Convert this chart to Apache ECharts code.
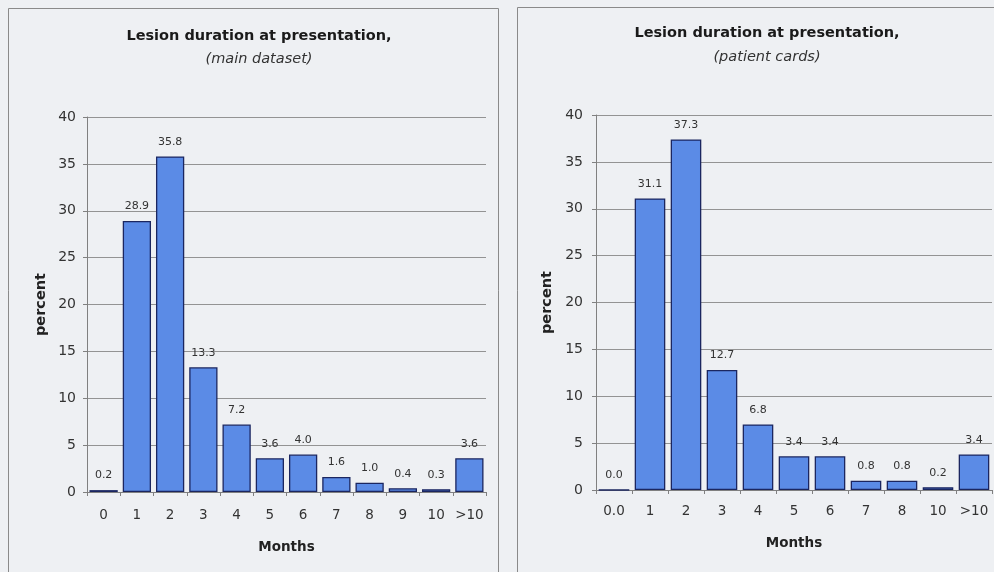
<!DOCTYPE html>
<html>
<head>
<meta charset="utf-8">
<script src="https://cdn.jsdelivr.net/npm/echarts@6/dist/echarts.min.js"></script>
<style>
html,body{margin:0;padding:0;background:#eef0f3;}
#c{width:994px;height:572px;}
</style>
</head>
<body>
<div id="c"></div>
<script>
// Left panel: main dataset
var catsMain = ['0','1','2','3','4','5','6','7','8','9','10','>10'];
var valsMain = [0.2, 28.9, 35.8, 13.3, 7.2, 3.6, 4.0, 1.6, 1.0, 0.4, 0.3, 3.6];
var labelsMain = ['0.2','28.9','35.8','13.3','7.2','3.6','4.0','1.6','1.0','0.4','0.3','3.6'];
// Right panel: patient cards (bar heights as drawn, labels as printed)
var catsCards = ['0.0','1','2','3','4','5','6','7','8','10','>10'];
var valsCards = [0.0, 31.1, 37.4, 12.8, 7.0, 3.6, 3.6, 1.0, 1.0, 0.3, 3.8];
var labelsCards = ['0.0','31.1','37.3','12.7','6.8','3.4','3.4','0.8','0.8','0.2','3.4'];
var yTicks = [0, 5, 10, 15, 20, 25, 30, 35, 40];

var FONT = '"DejaVu Sans", "Liberation Sans", Arial, sans-serif';
var chart = echarts.init(document.getElementById('c'));

function xAxisCfg(idx, cats, gap, margin) {
  return {
    type: 'category', gridIndex: idx, data: cats,
    name: 'Months', nameLocation: 'middle', nameGap: gap,
    nameTextStyle: {fontFamily: FONT, fontSize: 13.5, fontWeight: 'bold', color: '#222'},
    axisLine: {lineStyle: {color: '#808080', width: 1}},
    axisTick: {show: true, length: 4, interval: 0, alignWithLabel: false, lineStyle: {color: '#808080'}},
    axisLabel: {fontFamily: FONT, fontSize: 13.5, color: '#333', margin: margin, interval: 0, hideOverlap: false}
  };
}
function yAxisCfg(idx, gap, margin) {
  return {
    type: 'value', gridIndex: idx, min: yTicks[0], max: yTicks[yTicks.length-1], interval: yTicks[1]-yTicks[0],
    name: 'percent', nameLocation: 'middle', nameGap: gap,
    nameTextStyle: {fontFamily: FONT, fontSize: 14.5, fontWeight: 'bold', color: '#222'},
    axisLine: {show: true, lineStyle: {color: '#808080', width: 1}},
    axisTick: {show: true, length: 4, lineStyle: {color: '#808080'}},
    axisLabel: {fontFamily: FONT, fontSize: 14, color: '#333', margin: margin},
    splitLine: {show: true, lineStyle: {color: '#939393', width: 1}}
  };
}
function barSeries(idx, vals, labels) {
  return {
    type: 'bar', xAxisIndex: idx, yAxisIndex: idx, data: vals,
    barCategoryGap: '15%',
    itemStyle: {color: '#5b8be6', borderColor: '#1b2660', borderWidth: 1.3},
    label: {
      show: true, position: 'top', distance: 9,
      fontFamily: FONT, fontSize: 11, color: '#333',
      formatter: function (p) { return labels[p.dataIndex]; }
    },
    animation: false
  };
}

chart.setOption({
  backgroundColor: '#eef0f3',
  animation: false,
  graphic: [
    {type: 'rect', shape: {x: 8.5, y: 8.5, width: 490, height: 600}, style: {fill: 'none', stroke: '#8a8a8a', lineWidth: 1}},
    {type: 'rect', shape: {x: 517.5, y: 7.5, width: 500, height: 600}, style: {fill: 'none', stroke: '#8a8a8a', lineWidth: 1}}
  ],
  title: [
    {text: 'Lesion duration at presentation,', subtext: '(main dataset)', left: 254, top: 24, textAlign: 'center', itemGap: 8,
     textStyle: {fontFamily: FONT, fontSize: 14.5, fontWeight: 'bold', color: '#1a1a1a'},
     subtextStyle: {fontFamily: FONT, fontSize: 14.5, fontStyle: 'italic', color: '#333'}},
    {text: 'Lesion duration at presentation,', subtext: '(patient cards)', left: 762, top: 21, textAlign: 'center', itemGap: 9,
     textStyle: {fontFamily: FONT, fontSize: 14.5, fontWeight: 'bold', color: '#1a1a1a'},
     subtextStyle: {fontFamily: FONT, fontSize: 14.5, fontStyle: 'italic', color: '#333'}}
  ],
  grid: [
    {left: 87, right: 508, top: 117, bottom: 80, containLabel: false},
    {left: 596, right: 2, top: 115, bottom: 82, containLabel: false}
  ],
  xAxis: [xAxisCfg(0, catsMain, 48.5, 16), xAxisCfg(1, catsCards, 46.5, 14)],
  yAxis: [yAxisCfg(0, 38, 11), yAxisCfg(1, 41, 13)],
  series: [barSeries(0, valsMain, labelsMain), barSeries(1, valsCards, labelsCards)]
});
</script>
</body>
</html>
